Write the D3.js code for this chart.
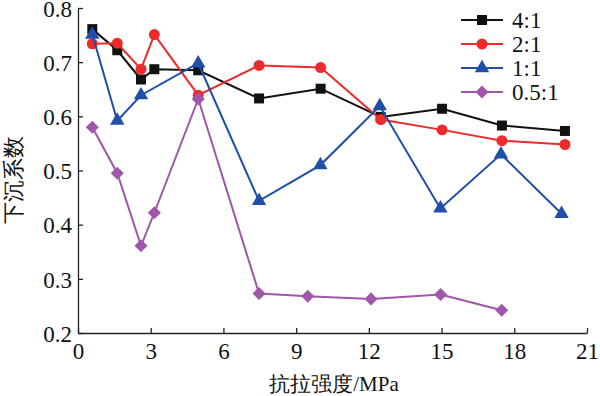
<!DOCTYPE html>
<html>
<head>
<meta charset="utf-8">
<script src="https://cdn.jsdelivr.net/npm/d3@7"></script>
<style>
  body { margin: 0; background: #fff; }
</style>
</head>
<body>
<svg width="600" height="396" font-family="Liberation Serif"></svg>
<script>
// 数据
const seriesNames = ["4:1", "2:1", "1:1", "0.5:1"];
const xMain = [0.59, 1.62, 2.6, 3.15, 4.96, 7.47, 10.01, 12.49, 15.02, 17.49, 20.09];
const xBlue = [0.59, 1.62, 2.6, 4.96, 7.47, 10.0, 12.45, 14.95, 17.45, 19.95];
const xPurple = [0.59, 1.62, 2.6, 3.15, 4.96, 7.47, 9.48, 12.09, 14.96, 17.48];
const y41 = [0.761, 0.722, 0.668, 0.687, 0.685, 0.633, 0.651, 0.599, 0.614, 0.583, 0.573];
const y21 = [0.734, 0.735, 0.687, 0.751, 0.639, 0.694, 0.690, 0.594, 0.575, 0.555, 0.548];
const y11 = [0.751, 0.592, 0.639, 0.698, 0.444, 0.510, 0.619, 0.430, 0.530, 0.420];
const y051 = [0.580, 0.495, 0.361, 0.422, 0.632, 0.273, 0.268, 0.263, 0.271, 0.242];
const xTicks = [0, 3, 6, 9, 12, 15, 18, 21];
const yTicks = [0.2, 0.3, 0.4, 0.5, 0.6, 0.7, 0.8];

const FONT = "Liberation Serif";

const series = [
  {name: seriesNames[0], xs: xMain, ys: y41, color: "#111111", symbol: d3.symbolSquare, size: 100, rot: 0},
  {name: seriesNames[1], xs: xMain, ys: y21, color: "#ee2a2a", symbol: d3.symbolCircle, size: 95, rot: 0},
  {name: seriesNames[2], xs: xBlue, ys: y11, color: "#1f4fa8", symbol: d3.symbolTriangle, size: 90, rot: 0},
  {name: seriesNames[3], xs: xPurple, ys: y051, color: "#a056aa", symbol: d3.symbolSquare, size: 85, rot: 45}
];

const svg = d3.select("svg");
const x = d3.scaleLinear().domain([0, 21]).range([78, 587]);
const y = d3.scaleLinear().domain([0.2, 0.8]).range([333, 8]);

// 坐标轴
const gx = svg.append("g").attr("transform", "translate(0,333)")
  .call(d3.axisBottom(x).tickValues(xTicks).tickSizeInner(-5).tickSizeOuter(0).tickPadding(10));
const gy = svg.append("g").attr("transform", "translate(78,0)")
  .call(d3.axisLeft(y).tickValues(yTicks).tickFormat(d3.format(".1f")).tickSizeInner(-5).tickSizeOuter(0).tickPadding(6));
[gx, gy].forEach(g => {
  g.attr("font-family", FONT).attr("font-size", 23);
  g.select(".domain").attr("stroke", "#222").attr("stroke-width", 1.3);
  g.selectAll(".tick line").attr("stroke", "#222").attr("stroke-width", 1.3);
  g.selectAll(".tick text").attr("font-family", FONT).attr("font-size", 23).attr("fill", "#111");
});
gx.selectAll(".tick text").attr("dy", "0.71em");
gy.selectAll(".tick text").attr("dy", "0.36em");

// 轴标题
svg.append("text")
  .attr("x", 334).attr("y", 391)
  .attr("text-anchor", "middle")
  .attr("font-family", FONT).attr("font-size", 21).attr("fill", "#111")
  .text("抗拉强度/MPa");
svg.append("text")
  .attr("transform", "translate(21,180) rotate(-90)")
  .attr("text-anchor", "middle")
  .attr("font-family", FONT).attr("font-size", 22).attr("fill", "#111")
  .text("下沉系数");

// 折线
const line = d3.line().x(d => x(d[0])).y(d => y(d[1]));
series.forEach(s => {
  const pts = s.xs.map((v, i) => [v, s.ys[i]]);
  const g = svg.append("g");
  g.append("path").datum(pts)
    .attr("d", line).attr("fill", "none")
    .attr("stroke", s.color).attr("stroke-width", 2);
  g.selectAll("path.pt").data(pts).enter().append("path")
    .attr("class", "pt")
    .attr("d", d3.symbol().type(s.symbol).size(s.size))
    .attr("transform", d => `translate(${x(d[0])},${y(d[1])}) rotate(${s.rot})`)
    .attr("fill", s.color);
});

// 图例
const legend = svg.append("g").attr("transform", "translate(461,20)");
series.forEach((s, i) => {
  const item = legend.append("g").attr("transform", `translate(0,${i * 24})`);
  item.append("line").attr("x1", 0).attr("x2", 42)
    .attr("stroke", s.color).attr("stroke-width", 2);
  item.append("path")
    .attr("d", d3.symbol().type(s.symbol).size(s.size))
    .attr("transform", `translate(21,0) rotate(${s.rot})`)
    .attr("fill", s.color);
  item.append("text").attr("x", 51).attr("y", 0).attr("dy", "0.35em")
    .attr("font-family", FONT).attr("font-size", 23).attr("fill", "#111")
    .text(s.name);
});
</script>
</body>
</html>
